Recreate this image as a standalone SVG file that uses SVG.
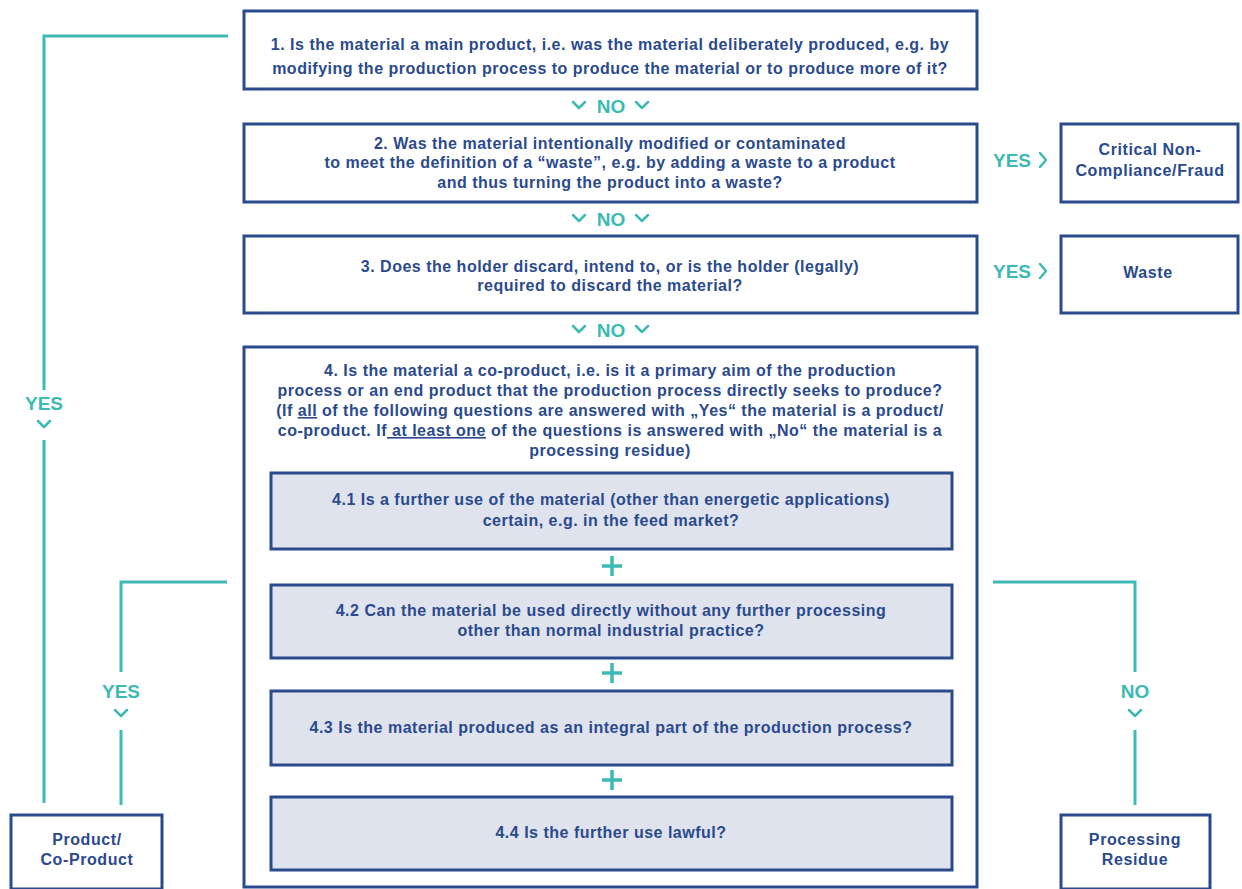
<svg xmlns="http://www.w3.org/2000/svg" width="1242" height="889" viewBox="0 0 1242 889">
<style>
.box{fill:#ffffff;stroke:#2b4a8e;stroke-width:3}
.inner{fill:#dfe3ed;stroke:#2b4a8e;stroke-width:3}
.t{font-family:"Liberation Sans",Arial,sans-serif;font-size:16px;letter-spacing:0.5px;fill:#2b4a8e;text-anchor:middle;font-weight:600}
.tb{font-family:"Liberation Sans",Arial,sans-serif;font-size:16px;letter-spacing:0.6px;fill:#2b4a8e;text-anchor:middle;font-weight:bold}
.lbl{font-family:"Liberation Sans",Arial,sans-serif;font-size:19px;fill:#3dbab3;font-weight:bold;text-anchor:middle}
.ln{fill:none;stroke:#3dbab3;stroke-width:3}
.chev{fill:none;stroke:#3dbab3;stroke-width:2.5;stroke-linecap:round;stroke-linejoin:round}
.plus{fill:none;stroke:#3dbab3;stroke-width:3.5}
</style>
<g id="q1">
<rect class="box" x="244" y="11" width="733" height="78"/>
<text class="t" x="610" y="50">1. Is the material a main product, i.e. was the material deliberately produced, e.g. by</text>
<text class="t" x="610" y="74">modifying the production process to produce the material or to produce more of it?</text>
</g>
<g id="q2">
<rect class="box" x="244" y="124" width="733" height="78"/>
<text class="t" x="610" y="149">2. Was the material intentionally modified or contaminated</text>
<text class="t" x="610" y="168">to meet the definition of a “waste”, e.g. by adding a waste to a product</text>
<text class="t" x="610" y="188">and thus turning the product into a waste?</text>
</g>
<g id="q3">
<rect class="box" x="244" y="236" width="733" height="77"/>
<text class="t" x="610" y="272">3. Does the holder discard, intend to, or is the holder (legally)</text>
<text class="t" x="610" y="291">required to discard the material?</text>
</g>
<g id="fraud">
<rect class="box" x="1061" y="124" width="177" height="78"/>
<text class="tb" x="1150" y="155">Critical Non-</text>
<text class="tb" x="1150" y="176">Compliance/Fraud</text>
</g>
<g id="waste">
<rect class="box" x="1061" y="236" width="177" height="77"/>
<text class="tb" x="1148" y="278">Waste</text>
</g>
<g id="q4">
<rect class="box" x="244" y="347" width="733" height="540"/>
<text class="t" x="610" y="376">4. Is the material a co-product, i.e. is it a primary aim of the production</text>
<text class="t" x="610" y="396">process or an end product that the production process directly seeks to produce?</text>
<text class="t" x="610" y="416">(If <tspan text-decoration="underline">all</tspan> of the following questions are answered with „Yes“ the material is a product/</text>
<text class="t" x="610" y="436">co-product. If<tspan text-decoration="underline"> at least one</tspan> of the questions is answered with „No“ the material is a</text>
<text class="t" x="610" y="456">processing residue)</text>
</g>
<g id="q41">
<rect class="inner" x="271" y="473" width="681" height="76"/>
<text class="t" x="611" y="505">4.1 Is a further use of the material (other than energetic applications)</text>
<text class="t" x="611" y="526">certain, e.g. in the feed market?</text>
</g>
<g id="q42">
<rect class="inner" x="271" y="585" width="681" height="73"/>
<text class="t" x="611" y="616">4.2 Can the material be used directly without any further processing</text>
<text class="t" x="611" y="636">other than normal industrial practice?</text>
</g>
<g id="q43">
<rect class="inner" x="271" y="691" width="681" height="74"/>
<text class="t" x="611" y="733">4.3 Is the material produced as an integral part of the production process?</text>
</g>
<g id="q44">
<rect class="inner" x="271" y="797" width="681" height="73"/>
<text class="t" x="611" y="838">4.4 Is the further use lawful?</text>
</g>
<g id="product">
<rect class="box" x="11" y="815" width="151" height="74"/>
<text class="tb" x="87" y="845">Product/</text>
<text class="tb" x="87" y="865">Co-Product</text>
</g>
<g id="residue">
<rect class="box" x="1061" y="815" width="149" height="74"/>
<text class="tb" x="1135" y="845">Processing</text>
<text class="tb" x="1135" y="865">Residue</text>
</g>
<g id="connectors">
<polyline class="ln" points="228,36 44,36 44,390"/>
<line class="ln" x1="44" y1="440" x2="44" y2="803"/>
<polyline class="ln" points="227,582 121,582 121,672"/>
<line class="ln" x1="121" y1="730" x2="121" y2="805"/>
<polyline class="ln" points="993,582 1135,582 1135,672"/>
<line class="ln" x1="1135" y1="730" x2="1135" y2="805"/>
<text class="lbl" x="44" y="410">YES</text>
<polyline class="chev" points="38,421 44,427 50,421"/>
<text class="lbl" x="121" y="698">YES</text>
<polyline class="chev" points="115,710 121,716 127,710"/>
<text class="lbl" x="1135" y="698">NO</text>
<polyline class="chev" points="1129,710 1135,716 1141,710"/>
<polyline class="chev" points="573,102 579,108 585,102"/>
<text class="lbl" x="611" y="113">NO</text>
<polyline class="chev" points="636,102 642,108 648,102"/>
<polyline class="chev" points="573,215 579,221 585,215"/>
<text class="lbl" x="611" y="226">NO</text>
<polyline class="chev" points="636,215 642,221 648,215"/>
<polyline class="chev" points="573,326 579,332 585,326"/>
<text class="lbl" x="611" y="337">NO</text>
<polyline class="chev" points="636,326 642,332 648,326"/>
<text class="lbl" x="1012" y="167">YES</text>
<polyline class="chev" points="1040,153 1046,160 1040,167"/>
<text class="lbl" x="1012" y="278">YES</text>
<polyline class="chev" points="1040,264 1046,271 1040,278"/>
<path class="plus" d="M602,566 H622 M612,556 V576"/>
<path class="plus" d="M602,673 H622 M612,663 V683"/>
<path class="plus" d="M602,780 H622 M612,770 V790"/>
</g>
</svg>
